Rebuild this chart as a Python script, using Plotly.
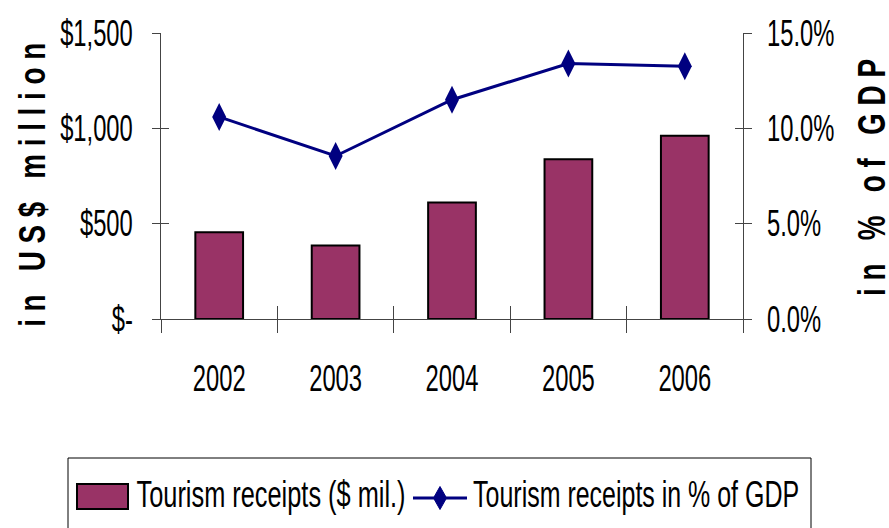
import json
import plotly.graph_objects as go

# Data
years = ["2002", "2003", "2004", "2005", "2006"]
receipts_musd = [455, 385, 611, 838, 961]          # Tourism receipts ($ mil.)
receipts_pct_gdp = [10.6, 8.55, 11.5, 13.4, 13.25]  # Tourism receipts in % of GDP

left_tickvals = [0, 500, 1000, 1500]
left_ticktext = ["$-", "$500", "$1,000", "$1,500"]
right_tickvals = [0, 5, 10, 15]
right_ticktext = ["0.0%", "5.0%", "10.0%", "15.0%"]

BAR_LABEL = "Tourism receipts ($ mil.)"
LINE_LABEL = "Tourism receipts in % of GDP"
LEFT_TITLE = "i n   U S $   m i l l i o n"
RIGHT_TITLE = "i n   %   o f   G D P"

BAR_COLOR = "#993366"
LINE_COLOR = "#000080"
AXIS_COLOR = "#444444"
FONT = "Liberation Sans, Arial, sans-serif"

W, H = 889, 528
ML, MR, MT, MB = 161, 146, 33, 209
PW, PH = W - ML - MR, H - MT - MB


def px_x(x):
    """Pixel column -> paper x."""
    return (x - ML) / PW


def px_y(y):
    """Pixel row (from top) -> paper y."""
    return (H - MB - y) / PH


fig = go.Figure()

fig.add_trace(go.Bar(
    x=years, y=receipts_musd, name=BAR_LABEL,
    marker=dict(color=BAR_COLOR, line=dict(color="black", width=2)),
    yaxis="y", xaxis="x", showlegend=False,
))
fig.add_trace(go.Scatter(
    x=years, y=receipts_pct_gdp, name=LINE_LABEL,
    mode="lines+markers",
    line=dict(color=LINE_COLOR, width=3),
    marker=dict(symbol="diamond-tall", size=20, color=LINE_COLOR),
    yaxis="y2", xaxis="x", showlegend=False,
))
# carrier trace for the inner halves of the crossing tick marks
fig.add_trace(go.Scatter(
    x=years, y=receipts_musd, mode="lines", line=dict(width=0),
    xaxis="x2", yaxis="y3", hoverinfo="skip", showlegend=False,
))

tickfont = dict(family=FONT, size=36, color="black")

fig.update_layout(
    width=W, height=H,
    margin=dict(l=ML, r=MR, t=MT, b=MB),
    paper_bgcolor="white", plot_bgcolor="white",
    bargap=0.59,
    xaxis=dict(
        type="category", showline=True, linecolor=AXIS_COLOR, linewidth=1,
        ticks="outside", tickson="boundaries", ticklen=13, tickcolor=AXIS_COLOR,
        tickfont=tickfont, showgrid=False, zeroline=False,
        ticklabelstandoff=28,
    ),
    xaxis2=dict(
        type="category", overlaying="x", matches="x", side="bottom",
        ticks="inside", tickson="boundaries", ticklen=13, tickcolor=AXIS_COLOR,
        showticklabels=False, showline=False, showgrid=False, zeroline=False,
    ),
    yaxis=dict(
        range=[0, 1500], tickvals=left_tickvals, ticktext=left_ticktext,
        showline=True, linecolor=AXIS_COLOR, linewidth=1, mirror="ticks",
        ticks="outside", ticklen=8, tickcolor=AXIS_COLOR,
        tickfont=tickfont, showgrid=False, zeroline=False,
        ticklabelstandoff=12,
    ),
    yaxis2=dict(
        range=[0, 15], tickvals=right_tickvals, ticktext=right_ticktext,
        overlaying="y", side="right", showline=False, ticks="",
        tickfont=tickfont, showgrid=False, zeroline=False,
        ticklabelstandoff=23,
    ),
    yaxis3=dict(
        range=[0, 1500], tickvals=left_tickvals, overlaying="y", side="left",
        ticks="inside", ticklen=8, tickcolor=AXIS_COLOR, mirror="ticks",
        showticklabels=False, showline=False, showgrid=False, zeroline=False,
    ),
)

# axis titles
fig.add_annotation(
    text=LEFT_TITLE, textangle=-90,
    xref="paper", yref="paper", x=px_x(32), y=px_y(185),
    xanchor="center", yanchor="middle", showarrow=False,
    font=dict(family=FONT, size=37, color="black", weight="bold"),
)
fig.add_annotation(
    text=RIGHT_TITLE, textangle=-90,
    xref="paper", yref="paper", x=px_x(872), y=px_y(178),
    xanchor="center", yanchor="middle", showarrow=False,
    font=dict(family=FONT, size=38, color="black", weight="bold"),
)

# legend frame and entries
fig.add_shape(type="rect", xref="paper", yref="paper",
              x0=px_x(68), x1=px_x(811), y0=px_y(458), y1=px_y(560),
              line=dict(color="black", width=1), fillcolor="white", layer="below")
fig.add_shape(type="rect", xref="paper", yref="paper",
              x0=px_x(77), x1=px_x(128), y0=px_y(509), y1=px_y(484),
              line=dict(color="black", width=2), fillcolor=BAR_COLOR)
fig.add_annotation(
    text=BAR_LABEL, xref="paper", yref="paper",
    x=px_x(270.5), y=px_y(494), xanchor="center", yanchor="middle",
    showarrow=False, font=tickfont,
)
fig.add_shape(type="line", xref="paper", yref="paper",
              x0=px_x(413), x1=px_x(467), y0=px_y(498), y1=px_y(498),
              line=dict(color=LINE_COLOR, width=3))
# legend diamond key
cx, cy, hw, hh = 440, 498, 6.5, 11.5
diamond = "M {},{} L {},{} L {},{} L {},{} Z".format(
    px_x(cx), px_y(cy - hh), px_x(cx + hw), px_y(cy),
    px_x(cx), px_y(cy + hh), px_x(cx - hw), px_y(cy))
fig.add_shape(type="path", xref="paper", yref="paper", path=diamond,
              fillcolor=LINE_COLOR, line=dict(color=LINE_COLOR, width=1))
fig.add_annotation(
    text=LINE_LABEL, xref="paper", yref="paper",
    x=px_x(636), y=px_y(494), xanchor="center", yanchor="middle",
    showarrow=False, font=tickfont,
)

# Condensed lettering: squeeze every text run along its baseline.
text_lengths = {BAR_LABEL: 269, LINE_LABEL: 326, LEFT_TITLE: 284, RIGHT_TITLE: 237}
condense = 0.66
post_js = """
(function () {
  var gd = document.getElementById('{plot_id}');
  var lengths = %s;
  var factor = %s;
  function squeeze() {
    gd.querySelectorAll('svg text').forEach(function (t) {
      var s = t.textContent;
      if (!s) return;
      var full = t.getAttribute('data-full-len');
      if (!full) {
        t.removeAttribute('textLength');
        full = parseFloat(t.getComputedTextLength());
        t.setAttribute('data-full-len', full);
      }
      full = parseFloat(full);
      var target = lengths.hasOwnProperty(s) ? lengths[s] : full * factor;
      t.setAttribute('lengthAdjust', 'spacingAndGlyphs');
      t.setAttribute('textLength', target);
      // keep an annotation's background box as wide as its squeezed text
      if (t.classList.contains('annotation-text')) {
        var bg = t.parentNode.querySelector('rect.bg');
        if (bg) {
          var w0 = bg.getAttribute('data-full-w');
          var x0 = bg.getAttribute('data-full-x');
          if (!w0) {
            w0 = bg.getAttribute('width'); x0 = bg.getAttribute('x');
            bg.setAttribute('data-full-w', w0); bg.setAttribute('data-full-x', x0);
          }
          w0 = parseFloat(w0); x0 = parseFloat(x0);
          var w1 = w0 - (full - target);
          bg.setAttribute('width', w1);
          bg.setAttribute('x', x0 + (w0 - w1) / 2);
        }
      }
    });
  }
  squeeze();
  gd.on('plotly_afterplot', squeeze);
  setTimeout(squeeze, 50);
})();
""" % (json.dumps(text_lengths), condense)

fig.write_html("out.html", post_script=post_js)
